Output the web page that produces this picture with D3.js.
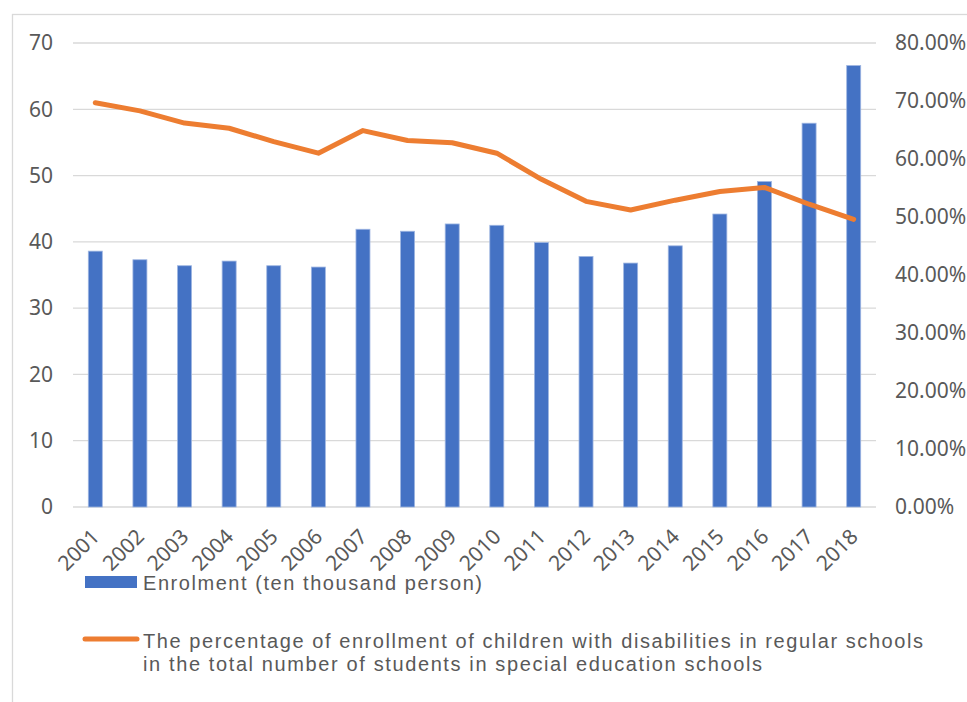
<!DOCTYPE html>
<html>
<head>
<meta charset="utf-8">
<script src="https://cdn.jsdelivr.net/npm/d3@7"></script>
<style>
  html, body { margin: 0; padding: 0; background: #fff; }
  svg { display: block; font-family: "Noto Sans", "Liberation Sans", sans-serif; }
</style>
</head>
<body>
<svg id="chart" width="967" height="702"></svg>
<script>
// Years on the category axis
const years = ["2001","2002","2003","2004","2005","2006","2007","2008","2009",
               "2010","2011","2012","2013","2014","2015","2016","2017","2018"];
// Enrolment, ten thousand persons (bars, left axis)
const enrolment = [38.6, 37.3, 36.4, 37.1, 36.4, 36.2, 41.9, 41.6, 42.7,
                   42.5, 39.9, 37.8, 36.8, 39.4, 44.2, 49.1, 57.9, 66.6];
// Share of disabled children enrolled in regular schools (line, right axis)
const share = [0.697, 0.683, 0.662, 0.653, 0.630, 0.610, 0.649, 0.632, 0.628,
               0.610, 0.565, 0.527, 0.512, 0.529, 0.544, 0.551, 0.522, 0.496];
// Axis ticks
const leftTicks = [0, 10, 20, 30, 40, 50, 60, 70];
const rightTicks = [0, 0.1, 0.2, 0.3, 0.4, 0.5, 0.6, 0.7, 0.8];
// Legend labels
const barLabel = "Enrolment (ten thousand person)";
const lineLabel = ["The percentage of enrollment of children with disabilities in regular schools",
                   "in the total number of students in special education schools"];

const svg = d3.select("#chart");
const plot = { left: 73, right: 876, top: 43, bottom: 507 };
const textColor = "#595959", gridColor = "#d9d9d9";
const barColor = "#4472c4", lineColor = "#ed7d31";

// Chart frame
svg.append("rect")
  .attr("x", 12.5).attr("y", 14.5).attr("width", 1000).attr("height", 1000)
  .attr("fill", "none").attr("stroke", gridColor).attr("stroke-width", 1.3);

const x = d3.scaleBand().domain(years).range([plot.left, plot.right])
  .paddingInner(0.686).paddingOuter(0.343);
const yL = d3.scaleLinear().domain([0, 70]).range([plot.bottom, plot.top]);
const yR = d3.scaleLinear().domain([0, 0.8]).range([plot.bottom, plot.top]);

// Gridlines
svg.append("g").selectAll("line").data(leftTicks).join("line")
  .attr("x1", plot.left).attr("x2", plot.right)
  .attr("y1", d => yL(d)).attr("y2", d => yL(d))
  .attr("stroke", gridColor).attr("stroke-width", 1.3);

// Left axis labels
const axisL = svg.append("g").attr("transform", `translate(${plot.left - 20},0)`)
  .call(d3.axisLeft(yL).tickValues(leftTicks).tickSize(0).tickPadding(0));
axisL.select(".domain").remove();
axisL.selectAll("text").attr("font-size", 21).attr("fill", textColor)
  .attr("font-family", "Noto Sans, sans-serif");

// Right axis labels
const axisR = svg.append("g").attr("transform", `translate(${plot.right + 19},0)`)
  .call(d3.axisRight(yR).tickValues(rightTicks).tickSize(0).tickPadding(0)
    .tickFormat(d3.format(".2%")));
axisR.select(".domain").remove();
axisR.selectAll("text").attr("font-size", 21).attr("fill", textColor)
  .attr("font-family", "Noto Sans, sans-serif");

// Bars
svg.append("g").selectAll("rect").data(years).join("rect")
  .attr("x", d => x(d)).attr("width", x.bandwidth())
  .attr("y", (d, i) => yL(enrolment[i]))
  .attr("height", (d, i) => yL(0) - yL(enrolment[i]))
  .attr("fill", barColor).attr("stroke", "#9fb6e2").attr("stroke-width", 0.8);

// Line
const line = d3.line()
  .x((d, i) => x(years[i]) + x.bandwidth() / 2)
  .y(d => yR(d));
svg.append("path").datum(share)
  .attr("d", line).attr("fill", "none")
  .attr("stroke", lineColor).attr("stroke-width", 5)
  .attr("stroke-linejoin", "round").attr("stroke-linecap", "round");

// Category labels, rotated
svg.append("g").selectAll("text").data(years).join("text")
  .attr("transform", d => `translate(${x(d) + x.bandwidth() / 2 + 5.5},${plot.bottom + 31}) rotate(-45)`)
  .attr("text-anchor", "end")
  .attr("font-size", 21).attr("fill", textColor)
  .text(d => d);

// Legend
const legendFont = "Liberation Sans, Arial, sans-serif";
const lg = svg.append("g");
lg.append("rect").attr("x", 85).attr("y", 576).attr("width", 52).attr("height", 12)
  .attr("fill", barColor);
lg.append("text").attr("x", 143).attr("y", 590)
  .attr("font-family", legendFont).attr("font-size", 20).attr("fill", textColor)
  .attr("textLength", 339).attr("lengthAdjust", "spacing")
  .text(barLabel);
lg.append("line").attr("x1", 85).attr("x2", 137).attr("y1", 639).attr("y2", 639)
  .attr("stroke", lineColor).attr("stroke-width", 5).attr("stroke-linecap", "round");
const lineWidths = [780, 619];
lg.selectAll("text.wrap").data(lineLabel).join("text")
  .attr("class", "wrap")
  .attr("x", 143).attr("y", (d, i) => 648 + i * 22.5)
  .attr("font-family", legendFont).attr("font-size", 20).attr("fill", textColor)
  .attr("textLength", (d, i) => lineWidths[i]).attr("lengthAdjust", "spacing")
  .text(d => d);
</script>
</body>
</html>
